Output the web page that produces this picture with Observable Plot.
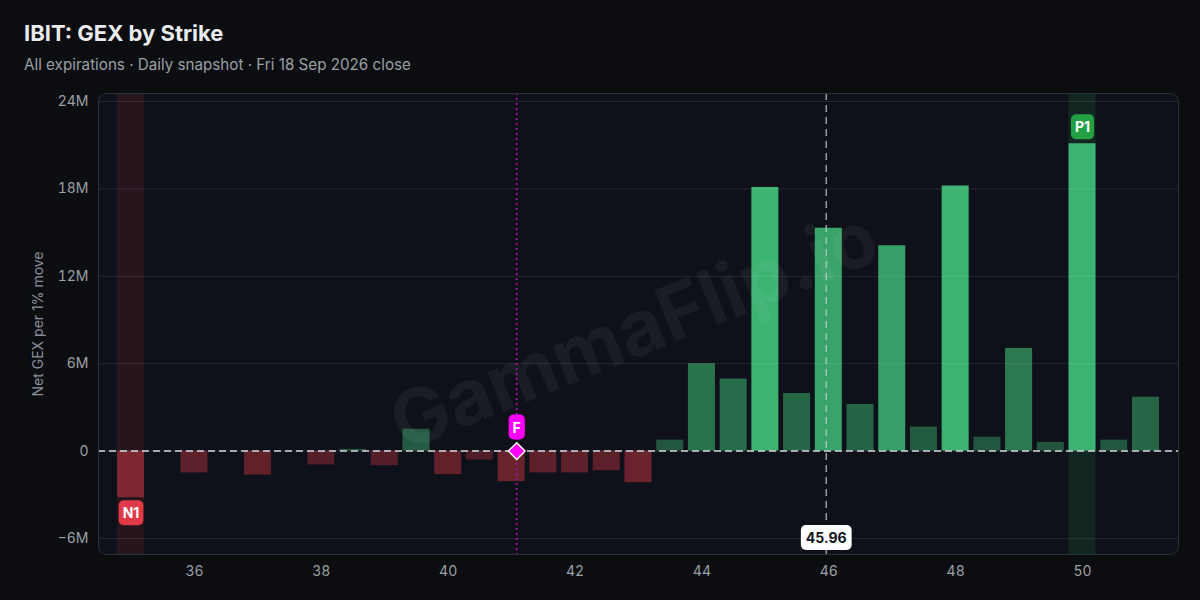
<!DOCTYPE html>
<html><head><meta charset="utf-8">
<script src="https://cdn.jsdelivr.net/npm/d3@7"></script>
<script src="https://cdn.jsdelivr.net/npm/@observablehq/plot@0.6"></script>
<style>
html,body{margin:0;padding:0;background:#0b0d10;}
body{width:1200px;height:600px;overflow:hidden;font-family:Inter,"Noto Sans",sans-serif;position:relative;}
#title{position:absolute;left:24px;top:22px;font-size:22px;line-height:1;font-weight:700;color:#e9ebee;white-space:nowrap;}
#subtitle{position:absolute;left:24px;top:57px;font-size:15.2px;line-height:1;color:#9aa0a6;white-space:nowrap;}
#chart{position:absolute;left:0;top:85px;}
</style></head><body>
<div id="title">IBIT: GEX by Strike</div>
<div id="subtitle">All expirations · Daily snapshot · Fri 18 Sep 2026 close</div>
<div id="chart"></div>
<script>
// ---- data ----
const strikes = [35,36,37,38,38.5,39,39.5,40,40.5,41,41.5,42,42.5,43,43.5,44,44.5,45,45.5,46,46.5,47,47.5,48,48.5,49,49.5,50,50.5,51];
const netGexM = [-3.2,-1.5,-1.65,-0.95,0.12,-1.0,1.5,-1.62,-0.62,-2.1,-1.5,-1.5,-1.35,-2.17,0.75,6.0,4.95,18.1,3.95,15.3,3.2,14.1,1.65,18.2,0.95,7.05,0.6,21.1,0.75,3.7];
const yTicks = [-6,0,6,12,18,24];
const xTicks = [36,38,40,42,44,46,48,50];
const spotPrice = 45.96;
const flipStrike = 41.08;
const levelN1 = {label:"N1", strike:35, gex:-3.2};
const levelP1 = {label:"P1", strike:50, gex:21.1};
const watermark = "GammaFlip.io";

// ---- styling ----
const panelBg = "#0e1119";
const greenBase = "#3cb371", redBase = "#e03a48";
const halfW = 0.213;
const yDomain = [-7.1, 24.55];
const xDomain = [34.487, 51.513];
function barFill(v){
  if (v >= 0) return d3.interpolateRgb(panelBg, greenBase)(0.4 + 0.6*Math.min(1, v/18));
  return d3.interpolateRgb(panelBg, redBase)(Math.min(1, 0.25 + 0.087*Math.abs(v)));
}
const data = strikes.map((s,i)=>({strike:s, gex:netGexM[i]}));
const fmtY = d => d === 0 ? "0" : (d < 0 ? "\u2212" : "") + Math.abs(d) + "M";

const plot = Plot.plot({
  width: 1200, height: 515,
  marginLeft: 98, marginRight: 22, marginTop: 8, marginBottom: 46,
  style: {background: "transparent", color: "#9aa0a6", fontFamily: "Inter, sans-serif", fontSize: "14px"},
  x: {domain: xDomain, ticks: xTicks, tickSize: 0, tickPadding: 12, label: null, tickFormat: d => String(d)},
  y: {domain: yDomain, ticks: yTicks, tickSize: 0, tickPadding: 10, label: null, tickFormat: fmtY},
  marks: [
    Plot.frame({fill: panelBg, rx: 8}),
    Plot.rect([levelN1], {x1: d => d.strike - halfW, x2: d => d.strike + halfW, y1: yDomain[0], y2: yDomain[1], fill: "#e03a48", fillOpacity: 0.12}),
    Plot.rect([levelP1], {x1: d => d.strike - halfW, x2: d => d.strike + halfW, y1: yDomain[0], y2: yDomain[1], fill: "#1c6236", fillOpacity: 0.28}),
    Plot.rect(data, {x1: d => d.strike - halfW, x2: d => d.strike + halfW, y1: 0, y2: "gex", fill: d => barFill(d.gex)}),
    Plot.ruleY(yTicks, {stroke: "#ffffff", strokeOpacity: 0.09}),
    Plot.text([watermark], {frameAnchor: "middle", text: d => d, rotate: -22, fontSize: 77, fontWeight: 700, fill: "#ffffff", fillOpacity: 0.05, dx: -4, dy: 8}),
    Plot.ruleX([flipStrike], {stroke: "#9a129a", strokeWidth: 2, strokeDasharray: "2,3"}),
    Plot.ruleX([spotPrice], {stroke: "#c8ccd2", strokeOpacity: 0.75, strokeWidth: 1.5, strokeDasharray: "7,5"}),
    Plot.ruleY([0], {stroke: "#d4d8de", strokeWidth: 1.5, strokeDasharray: "7,4"}),
    Plot.dot([flipStrike], {x: d => d, y: 0, symbol: "diamond2", r: 7.5, fill: "#ff00ff", stroke: "#ffffff", strokeWidth: 1.5}),
    Plot.text([levelN1], {x: "strike", y: "gex", text: "label", dy: 16, fill: "#ffffff", fontWeight: 700, fontSize: 14}),
    Plot.text([levelP1], {x: "strike", y: "gex", text: "label", dy: -16, fill: "#ffffff", fontWeight: 700, fontSize: 14}),
    Plot.text([flipStrike], {x: d => d, y: 0, text: () => "F", dy: -23, fill: "#ffffff", fontWeight: 700, fontSize: 14}),
    Plot.text([spotPrice], {x: d => d, y: -6, text: d => d.toFixed(2), fill: "#111418", fontWeight: 700, fontSize: 14}),
    Plot.text(["Net GEX per 1% move"], {frameAnchor: "left", textAnchor: "middle", text: d => d, rotate: -90, dx: -60, fill: "#8a9099", fontSize: 14}),
    Plot.frame({stroke: "#2c3038", rx: 8})
  ]
});
document.getElementById("chart").appendChild(plot);

// rounded badge backgrounds behind labels
const badges = {"N1": {fill: "#e03a48", px: 4}, "P1": {fill: "#22a043", px: 4}, "F": {fill: "#ff00ff", px: 4}, "45.96": {fill: "#ffffff", px: 5}};
plot.querySelectorAll("text").forEach(t => {
  const st = badges[t.textContent];
  if (!st) return;
  const b = t.getBBox();
  const h = 25;
  const r = document.createElementNS("http://www.w3.org/2000/svg", "rect");
  r.setAttribute("x", b.x - st.px);
  r.setAttribute("y", b.y + b.height/2 - h/2);
  r.setAttribute("width", b.width + 2*st.px);
  r.setAttribute("height", h);
  r.setAttribute("rx", 5);
  r.setAttribute("fill", st.fill);
  if (t.getAttribute("transform")) r.setAttribute("transform", t.getAttribute("transform"));
  t.parentNode.insertBefore(r, t);
});
</script>
</body></html>
